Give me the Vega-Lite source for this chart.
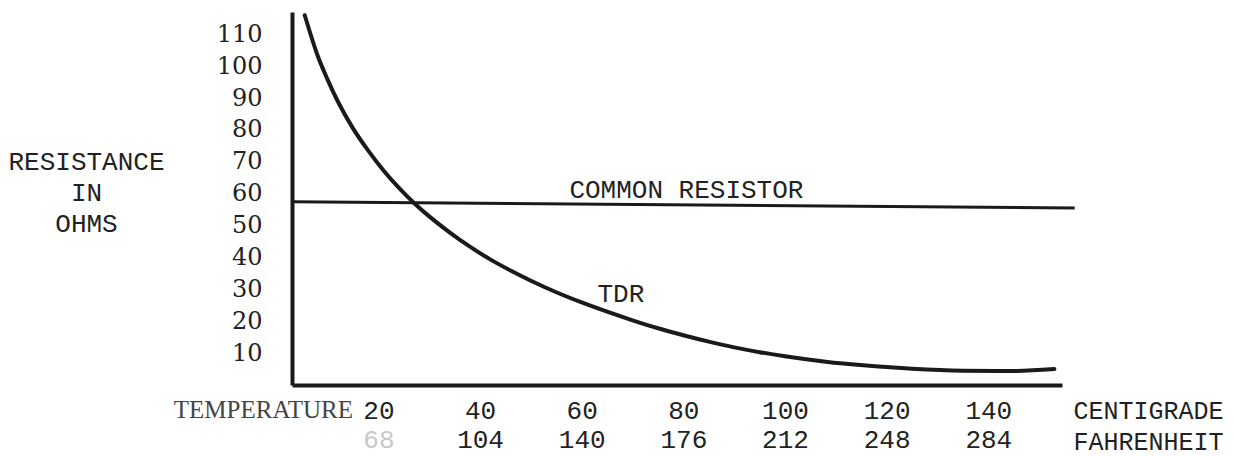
{
  "$schema": "https://vega.github.io/schema/vega-lite/v6.json",
  "width": 770,
  "height": 373,
  "autosize": {"type": "none"},
  "padding": {"left": 292, "top": 12, "right": 172, "bottom": 71},
  "background": "white",
  "config": {"view": {"stroke": null}, "axis": {"grid": false}},
  "title": {
    "text": "TEMPERATURE",
    "orient": "bottom",
    "anchor": "start",
    "frame": "group",
    "align": "right",
    "dx": 61,
    "dy": -56,
    "offset": 0,
    "font": "Liberation Serif",
    "fontSize": 25,
    "fontWeight": "normal",
    "color": "#444444"
  },
  "layer": [
    {
      "encoding": {
        "x": {
          "field": "c",
          "type": "quantitative",
          "scale": {"domain": [3, 154.5], "nice": false, "zero": false},
          "axis": {
            "orient": "bottom",
            "values": [20, 40, 60, 80, 100, 120, 140],
            "ticks": false,
            "tickSize": 0,
            "domainWidth": 4,
            "domainColor": "#1a1a1a",
            "labelFont": "Liberation Mono",
            "labelFontSize": 26,
            "labelColor": "#222222",
            "labelPadding": 12,
            "labelBaseline": "top",
            "labelFlush": false,
            "labelOverlap": false,
            "title": "CENTIGRADE",
            "titleFont": "Liberation Mono",
            "titleFontSize": 25,
            "titleFontWeight": "normal",
            "titleColor": "#222222",
            "titleAnchor": "start",
            "titleAlign": "left",
            "titleBaseline": "middle",
            "titleX": 781,
            "titleY": 25
          }
        },
        "y": {
          "field": "r",
          "type": "quantitative",
          "scale": {"domain": [0, 117], "nice": false},
          "axis": {
            "values": [10, 20, 30, 40, 50, 60, 70, 80, 90, 100, 110],
            "ticks": false,
            "tickSize": 0,
            "domainWidth": 4,
            "domainColor": "#1a1a1a",
            "labelFont": "DejaVu Serif",
            "labelFontSize": 24,
            "labelColor": "#222222",
            "labelPadding": 30,
            "labelFlush": false,
            "labelOverlap": false,
            "title": ["RESISTANCE", "IN", "OHMS"],
            "titleFont": "Liberation Mono",
            "titleFontSize": 26,
            "titleFontWeight": "normal",
            "titleColor": "#222222",
            "titleAngle": 0,
            "titleAlign": "center",
            "titleBaseline": "top",
            "titleLineHeight": 31,
            "titleX": -206,
            "titleY": 136
          }
        }
      },
      "layer": [
        {
          "data": {
            "values": [
              {"c": 5.5, "r": 116}, {"c": 6.5, "r": 110.8}, {"c": 8, "r": 103.5},
              {"c": 10, "r": 95.8}, {"c": 12, "r": 89}, {"c": 15, "r": 80.5},
              {"c": 18, "r": 73.5}, {"c": 21, "r": 67.3}, {"c": 24, "r": 61.9},
              {"c": 27, "r": 57.1}, {"c": 30, "r": 52.9}, {"c": 34, "r": 47.9},
              {"c": 38, "r": 43.4}, {"c": 42, "r": 39.4}, {"c": 46, "r": 35.9},
              {"c": 50, "r": 32.7}, {"c": 55, "r": 29.1}, {"c": 60, "r": 25.9},
              {"c": 65, "r": 23}, {"c": 70, "r": 20.3}, {"c": 75, "r": 17.8},
              {"c": 80, "r": 15.6}, {"c": 85, "r": 13.6}, {"c": 90, "r": 11.8},
              {"c": 95, "r": 10.3}, {"c": 100, "r": 9}, {"c": 108, "r": 7.3},
              {"c": 116, "r": 6.1}, {"c": 125, "r": 5.1}, {"c": 135, "r": 4.5},
              {"c": 145, "r": 4.4}, {"c": 153, "r": 5}
            ]
          },
          "mark": {"type": "line", "interpolate": "monotone", "strokeWidth": 4, "color": "#1a1a1a", "strokeCap": "round"}
        },
        {
          "data": {"values": [{"c": 3, "r": 57.5}, {"c": 157, "r": 55.5}]},
          "mark": {"type": "line", "strokeWidth": 3, "color": "#1a1a1a"}
        },
        {
          "data": {
            "values": [
              {"c": 80.6, "r": 61.2, "label": "COMMON RESISTOR"},
              {"c": 67.7, "r": 28.5, "label": "TDR"}
            ]
          },
          "mark": {"type": "text", "font": "Liberation Mono", "fontSize": 26, "align": "center", "baseline": "middle", "color": "#222222"},
          "encoding": {"text": {"field": "label"}}
        }
      ]
    },
    {
      "data": {
        "values": [
          {"f": 68}, {"f": 104}, {"f": 140}, {"f": 176}, {"f": 212}, {"f": 248}, {"f": 284}
        ]
      },
      "mark": {"type": "point", "opacity": 0},
      "encoding": {
        "x": {
          "field": "f",
          "type": "quantitative",
          "scale": {"domain": [37.4, 310.1], "nice": false, "zero": false},
          "axis": {
            "orient": "bottom",
            "offset": 28,
            "values": [68, 104, 140, 176, 212, 248, 284],
            "domain": false,
            "ticks": false,
            "tickSize": 0,
            "labelFont": "Liberation Mono",
            "labelFontSize": 26,
            "labelColor": {"condition": {"test": "datum.value === 68", "value": "#c8c8c8"}, "value": "#222222"},
            "labelPadding": 13,
            "labelBaseline": "top",
            "labelFlush": false,
            "labelOverlap": false,
            "title": "FAHRENHEIT",
            "titleFont": "Liberation Mono",
            "titleFontSize": 25,
            "titleFontWeight": "normal",
            "titleColor": "#222222",
            "titleAnchor": "start",
            "titleAlign": "left",
            "titleBaseline": "middle",
            "titleX": 781,
            "titleY": 28
          }
        }
      }
    }
  ],
  "resolve": {"scale": {"x": "independent"}, "axis": {"x": "independent"}}
}
